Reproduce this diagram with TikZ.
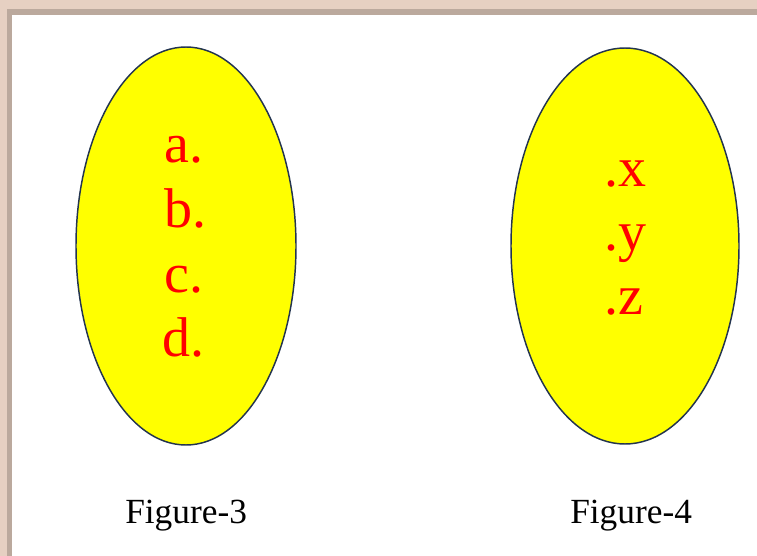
\documentclass[tikz,border=0pt]{standalone}
\usepackage{fontspec}
\setmainfont{Liberation Serif}
\usepackage{tikz}
\usetikzlibrary{calc}

\definecolor{frameLight}{HTML}{E6D0C2}
\definecolor{frameDark}{HTML}{BBA99D}
\definecolor{setEdge}{HTML}{23344F}
\definecolor{setYellow}{HTML}{FFFF00}
\definecolor{elemRed}{HTML}{FF0000}

\tikzset{
  setfill/.style={fill=setYellow, draw=setEdge, line width=1.1pt},
  elem/.style={elemRed, anchor=base west, inner sep=0pt, font=\fontsize{42}{42}\selectfont},
  caption/.style={black, anchor=base west, inner sep=0pt, font=\fontsize{26.5}{26.5}\selectfont}
}

\begin{document}
\begin{tikzpicture}[x=0.75pt, y=-0.75pt]
  \useasboundingbox (0,0) rectangle (757,556);
  % Cadre
  \fill[white] (0,0) rectangle (757,556);
  \fill[frameLight] (0,0) rectangle (757,9);
  \fill[frameDark] (7,9) rectangle (757,15);
  \fill[frameLight] (0,0) rectangle (7,556);
  \fill[frameDark] (7,15) rectangle (12,556);
  % Ensemble de gauche
  \filldraw[setfill] (186,246) ellipse (110 and 199);
  \node[elem] (a) at (164,163) {a.};
  \node[elem] (b) at (164,228) {b.};
  \node[elem] (c) at (164,292) {c.};
  \node[elem] (d) at (162,356) {d.};
  % Ensemble de droite
  \filldraw[setfill] (625,246) ellipse (114 and 198);
  \node[elem] (x) at (604,187) {.x};
  \node[elem] (y) at (604,250) {.y};
  \node[elem] (z) at (604,314) {.z};
  % Legendes
  \node[caption] (fig3) at (125,523) {Figure-3};
  \node[caption] (fig4) at (570,523) {Figure-4};
\end{tikzpicture}
\end{document}
